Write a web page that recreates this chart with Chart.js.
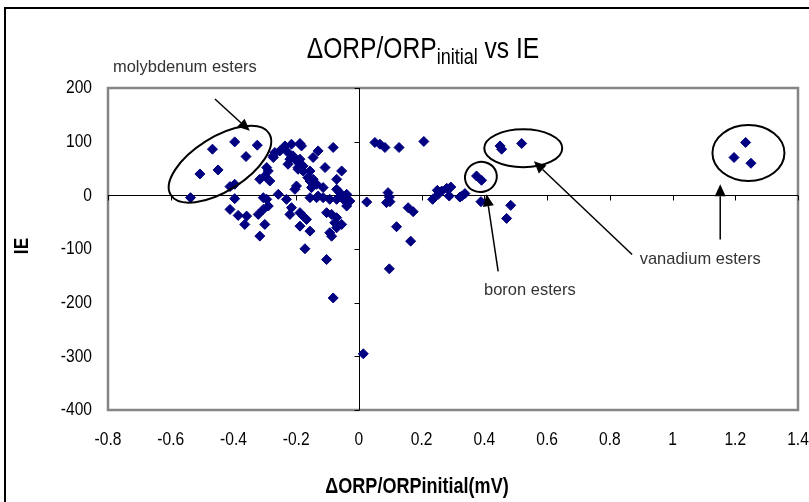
<!DOCTYPE html>
<html>
<head>
<meta charset="utf-8">
<script src="https://cdn.jsdelivr.net/npm/chart.js@4.4.1/dist/chart.umd.min.js"></script>
<style>
html,body{margin:0;padding:0;background:#fff;overflow:hidden}
#wrap{position:relative;width:809px;height:502px}
</style>
</head>
<body>
<div id="wrap"><canvas id="c" width="809" height="502"></canvas></div>
<script>
// ---- data ----
const xTickValues = [-0.8, -0.6, -0.4, -0.2, 0, 0.2, 0.4, 0.6, 0.8, 1, 1.2, 1.4];
const yTickValues = [200, 100, 0, -100, -200, -300, -400];

// ΔORP/ORPinitial (x) and IE (y)
const orpRatio = [
  -0.396, -0.467, -0.324, -0.360, -0.449, -0.507, -0.537, -0.411, -0.396, -0.396,
  -0.411, -0.385, -0.358, -0.364, -0.316, -0.300, -0.321, -0.305, -0.294, -0.316,
  -0.300, -0.289, -0.284, -0.294, -0.273, -0.268, -0.257, -0.236, -0.215, -0.188,
  -0.226, -0.210, -0.199, -0.226, -0.194, -0.178, -0.199, -0.204, -0.231, -0.215,
  -0.220, -0.178, -0.167, -0.188, -0.156, -0.172, -0.156, -0.146, -0.135, -0.151,
  -0.146, -0.130, -0.108, -0.114, -0.156, -0.135, -0.114, -0.082, -0.055, -0.071,
  -0.071, -0.061, -0.039, -0.093, -0.071, -0.050, -0.034, -0.103, -0.087, -0.071,
  -0.077, -0.055, -0.093, -0.087, -0.071, -0.039, -0.103, -0.082, 0.025, -0.183,
  -0.273, -0.162, -0.188, -0.305, -0.130, -0.188, -0.178, -0.156, -0.289, -0.029,
  0.051, 0.067, 0.083, 0.128, 0.207, 0.093, 0.088, 0.099, 0.157, 0.173,
  0.120, 0.165, 0.097, 0.014, 0.235, 0.250, 0.264, 0.280, 0.293, 0.253,
  0.288, 0.328, 0.338, 0.375, 0.391, 0.389, 0.450, 0.455, 0.519, 0.484,
  0.471, 1.233, 1.196, 1.250, 0.097, 0.322, -0.252, -0.220, -0.194, -0.162
];
const ieValues = [
  99.6, 86, 93.5, 72.3, 47.3, 39.8, -4.3, 16.3, 20.6, -6.2,
  -26.2, -37.4, -38.7, -54.2, -76, -54.2, -35.5, -4.3, -7.5, 29.9,
  36.1, 45.4, 26.7, 51.8, 70.5, 79.8, 1.9, 92.1, 95.3, 96.6,
  79.8, 73.5, 64.1, 57.9, 51.8, 45.4, 17.4, 11.2, -7.5, -23,
  -35.5, -38.7, -44.9, -57.4, -66.7, -99.6, 26.7, 29.9, 20.6, 14.4,
  70.5, 82.8, 51.8, 14.4, -4.3, -4.3, -4.3, 89.2, 45.4, 29.9,
  11.2, 5, 1.9, -7.5, -7.5, -7.5, -10.7, -32.3, -35.5, -41.7,
  -51, -54.2, -69.7, -76.1, -60.4, -20, -119.6, -191.2, -12.5, 92.1,
  73.5, 33.1, -32.3, -26.2, -1.3, 67.3, 54.8, 45.4, -20, -10.7,
  98.5, 95.3, 89.2, 89.2, 100.4, 5, -13.6, -11.8, -23, -30.5,
  -58.5, -85.4, -137, -295.3, -7.5, 9.3, 8, 13.1, 15.5, 1.9,
  -1.3, -1.3, 3.2, 36.1, 28, -11.8, 92.1, 86, 96.6, -18.7,
  -43, 98.5, 70.5, 59.8, -3.2, -3.2, 82.8, 67.3, 48.6, 33
];
const groupLabels = ['molybdenum esters', 'boron esters', 'vanadium esters'];
const titleMain = 'ΔORP/ORP', titleSub = 'initial', titleEnd = ' vs IE';
const xAxisTitle = 'ΔORP/ORPinitial(mV)';
const yAxisTitle = 'IE';

const points = orpRatio.map((v, i) => ({ x: v, y: ieValues[i] }));

// ---- styling / decoration ----
const FAMILY = "'Liberation Sans', Arial, sans-serif";
const NARROW = 0.82;   // horizontal compression to emulate a narrow face

function narrowText(ctx, text, x, y, font, align, baseline, sx, rot) {
  ctx.save();
  ctx.font = font;
  ctx.textAlign = align;
  ctx.textBaseline = baseline;
  ctx.translate(x, y);
  if (rot) ctx.rotate(rot);
  ctx.scale(sx, 1);
  ctx.fillText(text, 0, 0);
  ctx.restore();
}

function arrow(ctx, x1, y1, x2, y2) {
  const ang = Math.atan2(y2 - y1, x2 - x1);
  const L = 12, W = 5.5;
  const bx = x2 - Math.cos(ang) * L, by = y2 - Math.sin(ang) * L;
  ctx.beginPath();
  ctx.moveTo(x1, y1); ctx.lineTo(bx, by); ctx.stroke();
  ctx.beginPath();
  ctx.moveTo(x2, y2);
  ctx.lineTo(bx + Math.sin(ang) * W, by - Math.cos(ang) * W);
  ctx.lineTo(bx - Math.sin(ang) * W, by + Math.cos(ang) * W);
  ctx.closePath(); ctx.fill();
}

const decor = {
  id: 'decor',
  beforeDraw(chart) {
    const ctx = chart.ctx;
    ctx.save();
    ctx.fillStyle = '#fff';
    ctx.fillRect(0, 0, chart.width, chart.height);
    ctx.strokeStyle = '#000';
    ctx.lineWidth = 2;
    ctx.beginPath();
    ctx.moveTo(5, chart.height); ctx.lineTo(5, 8); ctx.lineTo(chart.width, 8);
    ctx.stroke();
    ctx.restore();
  },
  beforeDatasetsDraw(chart) {
    const { ctx, chartArea: a, scales: { x, y } } = chart;
    ctx.save();
    ctx.strokeStyle = '#858585';
    ctx.lineWidth = 2.5;
    ctx.strokeRect(a.left, a.top, a.right - a.left, a.bottom - a.top);
    const y0 = Math.round(y.getPixelForValue(0)) + 0.5;
    const x0 = Math.round(x.getPixelForValue(0)) + 0.5;
    ctx.strokeStyle = '#000';
    ctx.lineWidth = 1;
    ctx.beginPath();
    ctx.moveTo(a.left, y0); ctx.lineTo(a.right, y0);
    ctx.moveTo(x0, a.top); ctx.lineTo(x0, a.bottom);
    x.ticks.forEach(t => {
      const px = Math.round(x.getPixelForValue(t.value)) + 0.5;
      ctx.moveTo(px, y0); ctx.lineTo(px, y0 + 5);
    });
    y.ticks.forEach(t => {
      const py = Math.round(y.getPixelForValue(t.value)) + 0.5;
      ctx.moveTo(x0 - 5, py); ctx.lineTo(x0, py);
    });
    ctx.stroke();
    // tick labels from the scales' own ticks
    ctx.fillStyle = '#000';
    const tf = '19px ' + FAMILY;
    x.ticks.forEach(t => {
      narrowText(ctx, String(Math.round(t.value * 10) / 10), x.getPixelForValue(t.value), 440, tf, 'center', 'middle', NARROW);
    });
    y.ticks.forEach(t => {
      narrowText(ctx, String(t.value), a.left - 16, y.getPixelForValue(t.value), tf, 'right', 'middle', NARROW);
    });
    ctx.restore();
  },
  afterDatasetsDraw(chart) {
    const { ctx, scales: { x, y } } = chart;
    const X = v => x.getPixelForValue(v), Y = v => y.getPixelForValue(v);
    ctx.save();
    ctx.strokeStyle = '#000';
    ctx.fillStyle = '#000';
    ctx.lineWidth = 2;
    const ell = [
      [-0.443, 57.9, 58, 27, -0.56],
      [0.389, 34.2, 16, 15, -0.3],
      [0.524, 87.8, 39, 19, 0],
      [1.242, 78.9, 36, 28, 0]
    ];
    ell.forEach(([cx, cy, rx, ry, rot]) => {
      ctx.beginPath();
      ctx.ellipse(X(cx), Y(cy), rx, ry, rot, 0, Math.PI * 2);
      ctx.stroke();
    });
    ctx.lineWidth = 1.5;
    arrow(ctx, X(-0.459), Y(179.4), X(-0.348), Y(120.2));
    arrow(ctx, X(0.444), Y(-141.5), X(0.407), Y(1.9));
    arrow(ctx, X(0.871), Y(-110.3), X(0.558), Y(63.5));
    arrow(ctx, X(1.152), Y(-82.2), X(1.152), Y(20.6));
    ctx.fillStyle = '#333';
    const lf = '17px ' + FAMILY;
    narrowText(ctx, groupLabels[0], X(-0.555), Y(239), lf, 'center', 'middle', 0.97);
    narrowText(ctx, groupLabels[1], X(0.545), Y(-177.6), lf, 'center', 'middle', 0.97);
    narrowText(ctx, groupLabels[2], X(1.088), Y(-119.6), lf, 'center', 'middle', 0.97);
    ctx.restore();
  },
  afterDraw(chart) {
    const ctx = chart.ctx;
    ctx.save();
    ctx.fillStyle = '#000';
    const big = '30px ' + FAMILY, small = '22px ' + FAMILY;
    ctx.font = big;
    const w1 = ctx.measureText(titleMain).width * NARROW;
    const w3 = ctx.measureText(titleEnd).width * NARROW;
    ctx.font = small;
    const w2 = ctx.measureText(titleSub).width * NARROW;
    const sx = 423 - (w1 + w2 + w3) / 2;
    narrowText(ctx, titleMain, sx, 58, big, 'left', 'alphabetic', NARROW);
    narrowText(ctx, titleSub, sx + w1, 64, small, 'left', 'alphabetic', NARROW);
    narrowText(ctx, titleEnd, sx + w1 + w2, 58, big, 'left', 'alphabetic', NARROW);
    narrowText(ctx, xAxisTitle, 417, 487, 'bold 22px ' + FAMILY, 'center', 'middle', NARROW);
    narrowText(ctx, yAxisTitle, 22, 246, 'bold 21px ' + FAMILY, 'center', 'middle', NARROW, -Math.PI / 2);
    ctx.restore();
  }
};

new Chart(document.getElementById('c'), {
  type: 'scatter',
  data: {
    datasets: [{
      label: 'IE',
      data: points,
      pointStyle: 'rectRot',
      pointRadius: 5,
      pointHoverRadius: 5,
      backgroundColor: '#000080',
      borderColor: '#000080',
      borderWidth: 1
    }]
  },
  options: {
    responsive: false,
    animation: false,
    devicePixelRatio: 1,
    events: [],
    layout: { padding: { top: 88, right: 11, bottom: 0, left: 0 } },
    plugins: { legend: { display: false }, title: { display: false }, tooltip: { enabled: false } },
    scales: {
      x: {
        type: 'linear',
        min: -0.8, max: 1.4,
        afterBuildTicks: s => { s.ticks = xTickValues.map(v => ({ value: v })); },
        afterFit: s => { s.height = 92; s.paddingLeft = 0; s.paddingRight = 0; },
        grid: { display: false, drawTicks: false },
        border: { display: false },
        ticks: { display: false },
        title: { display: false }
      },
      y: {
        type: 'linear',
        min: -400, max: 200,
        afterBuildTicks: s => { s.ticks = yTickValues.map(v => ({ value: v })); },
        afterFit: s => { s.width = 108; s.paddingTop = 0; s.paddingBottom = 0; },
        grid: { display: false, drawTicks: false },
        border: { display: false },
        ticks: { display: false },
        title: { display: false }
      }
    }
  },
  plugins: [decor]
});
</script>
</body>
</html>
